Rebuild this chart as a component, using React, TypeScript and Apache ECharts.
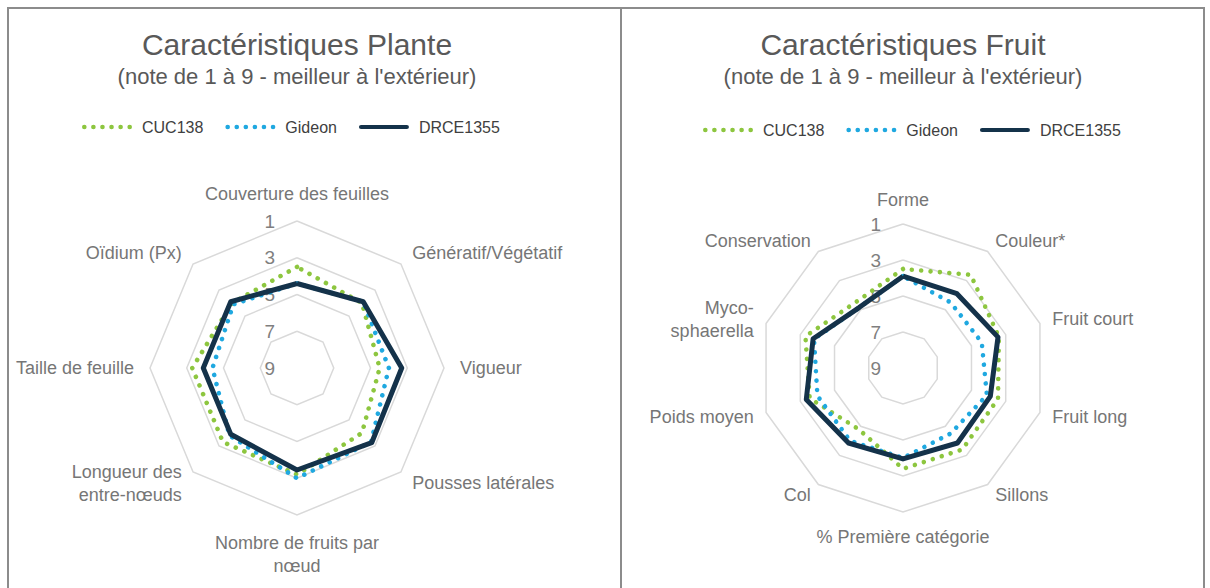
import React, { useEffect, useRef } from 'react';
import * as echarts from 'echarts';

// ---------- data (scores 1..9, 1 = best = outside) ----------
const seriesNames = ['CUC138', 'Gideon', 'DRCE1355'];

// Plant radar, listed from the top going counter-clockwise (ECharts order)
const plantCategories = [
  'Couverture des feuilles',
  'Oïdium (Px)',
  'Taille de feuille',
  'Longueur des\nentre-nœuds',
  'Nombre de fruits par\nnœud',
  'Pousses latérales',
  'Vigueur',
  'Génératif/Végétatif',
];
const plantCUC138 = [3.5, 4.0, 3.3, 3.3, 3.2, 4.0, 4.5, 4.0];
const plantGideon = [4.4, 4.1, 4.4, 3.8, 3.0, 3.3, 4.0, 3.9];
const plantDRCE1355 = [4.4, 3.9, 3.9, 3.9, 3.45, 3.25, 3.3, 3.9];

// Fruit radar, listed from the top going counter-clockwise (ECharts order)
const fruitCategories = [
  'Forme',
  'Conservation',
  'Myco-\nsphaerella',
  'Poids moyen',
  'Col',
  '% Première catégorie',
  'Sillons',
  'Fruit long',
  'Fruit court',
  'Couleur*',
];
const fruitCUC138 = [3.5, 4.5, 3.3, 3.55, 4.8, 3.4, 3.4, 3.45, 3.4, 2.6];
const fruitGideon = [3.9, 4.85, 3.8, 4.0, 4.0, 4.0, 4.5, 4.1, 4.4, 4.5];
const fruitDRCE1355 = [3.9, 4.85, 3.75, 3.35, 3.85, 3.95, 3.85, 3.9, 3.45, 3.9];

const scaleMin = 1;
const scaleMax = 9;
const scaleStep = 2;

const titles = ['Caractéristiques Plante', 'Caractéristiques Fruit'];
const subtitle = "(note de 1 à 9 - meilleur à l'extérieur)";

// ---------- styling ----------
const colors = ['#8DC63F', '#1FA8E0', '#14324A'];
const FONT = '"Liberation Sans", Arial, sans-serif';

// reversed scale: 1 outside, 9 at the centre
const flip = (v: number) => scaleMin + scaleMax - v;

const dot = (x: number) => `M${x},3a2.3,2.3 0 1,0 4.6,0a2.3,2.3 0 1,0 -4.6,0`;
const dotsIcon = 'path://' + [0, 9, 18, 27, 36, 45].map(dot).join('');
const barIcon = 'path://M3,0.5L57,0.5A2.5,2.5 0 0,1 57,5.5L3,5.5A2.5,2.5 0 0,1 3,0.5Z';

function makeIndicators(cats: string[]) {
  return cats.map((name, i) => {
    const ind: any = { name, min: scaleMin, max: scaleMax };
    if (i === 0) {
      ind.axisLabel = {
        show: true,
        formatter: (v: number) => String(flip(v)),
        color: '#7F7F7F',
        fontSize: 19,
        fontFamily: FONT,
        margin: 22,
        showMinLabel: true,
        showMaxLabel: true,
      };
    }
    return ind;
  });
}

function makeRadar(cats: string[], center: number[], radius: number, nameGap: number) {
  return {
    center,
    radius,
    startAngle: 90,
    shape: 'polygon',
    splitNumber: (scaleMax - scaleMin) / scaleStep,
    nameGap,
    indicator: makeIndicators(cats),
    axisName: { color: '#767676', fontSize: 18, fontFamily: FONT, lineHeight: 23 },
    axisLine: { show: false },
    axisTick: { show: false },
    axisLabel: { show: false },
    splitArea: { show: false },
    splitLine: { lineStyle: { color: '#D9D9D9', width: 1.5 } },
  };
}

function makeSeries(radarIndex: number, values: number[][]) {
  return values.map((vals, k) => {
    const dotted = k < 2;
    return {
      type: 'radar',
      radarIndex,
      name: seriesNames[k],
      color: colors[k],
      symbol: 'none',
      silent: true,
      z: 2 + k,
      lineStyle: dotted
        ? { color: colors[k], width: 4.6, type: [0.01, 9.4], cap: 'round' }
        : { color: colors[k], width: 5, type: 'solid', join: 'round' },
      data: [{ name: seriesNames[k], value: vals.map(flip) }],
    };
  });
}

function makeLegend(left: number, top: number) {
  return {
    left,
    top,
    orient: 'horizontal',
    itemWidth: 50,
    itemHeight: 6,
    itemGap: 22,
    selectedMode: false,
    padding: 0,
    textStyle: { color: '#404040', fontSize: 16, fontFamily: FONT, padding: [0, 0, 0, 5] },
    data: seriesNames.map((n, k) => ({
      name: n,
      icon: k < 2 ? dotsIcon : barIcon,
      itemStyle: { color: colors[k], borderWidth: 0 },
    })),
  };
}

function makeTitle(text: string, x: number) {
  return {
    text,
    subtext: subtitle,
    left: x,
    top: 29,
    padding: 0,
    textAlign: 'center',
    itemGap: 6,
    textStyle: { color: '#595959', fontSize: 30, fontWeight: 'normal', fontFamily: FONT },
    subtextStyle: { color: '#595959', fontSize: 22, fontFamily: FONT },
  };
}

export default function App() {
  const ref = useRef<HTMLDivElement>(null);

  useEffect(() => {
    if (!ref.current) return;
    const chart = echarts.init(ref.current, undefined, { renderer: 'svg' });
    const option: any = {
      animation: false,
      backgroundColor: '#FFFFFF',
      textStyle: { fontFamily: FONT },
      title: [makeTitle(titles[0], 297), makeTitle(titles[1], 903)],
      legend: [makeLegend(82, 119), makeLegend(703, 122)],
      radar: [
        makeRadar(plantCategories, [297, 368], 147, 16),
        makeRadar(fruitCategories, [903, 368], 144, 13),
      ],
      series: [
        ...makeSeries(0, [plantCUC138, plantGideon, plantDRCE1355]),
        ...makeSeries(1, [fruitCUC138, fruitGideon, fruitDRCE1355]),
      ],
      graphic: [
        {
          type: 'rect',
          silent: true,
          shape: { x: 8, y: 8, width: 613, height: 600 },
          style: { fill: 'none', stroke: '#8C8C8C', lineWidth: 2 },
        },
        {
          type: 'rect',
          silent: true,
          shape: { x: 621, y: 8, width: 583, height: 600 },
          style: { fill: 'none', stroke: '#8C8C8C', lineWidth: 2 },
        },
      ],
    };
    chart.setOption(option);
    return () => chart.dispose();
  }, []);

  return (
    <div
      ref={ref}
      style={{ position: 'fixed', left: 0, top: 0, width: 1210, height: 588, background: '#fff' }}
    />
  );
}
